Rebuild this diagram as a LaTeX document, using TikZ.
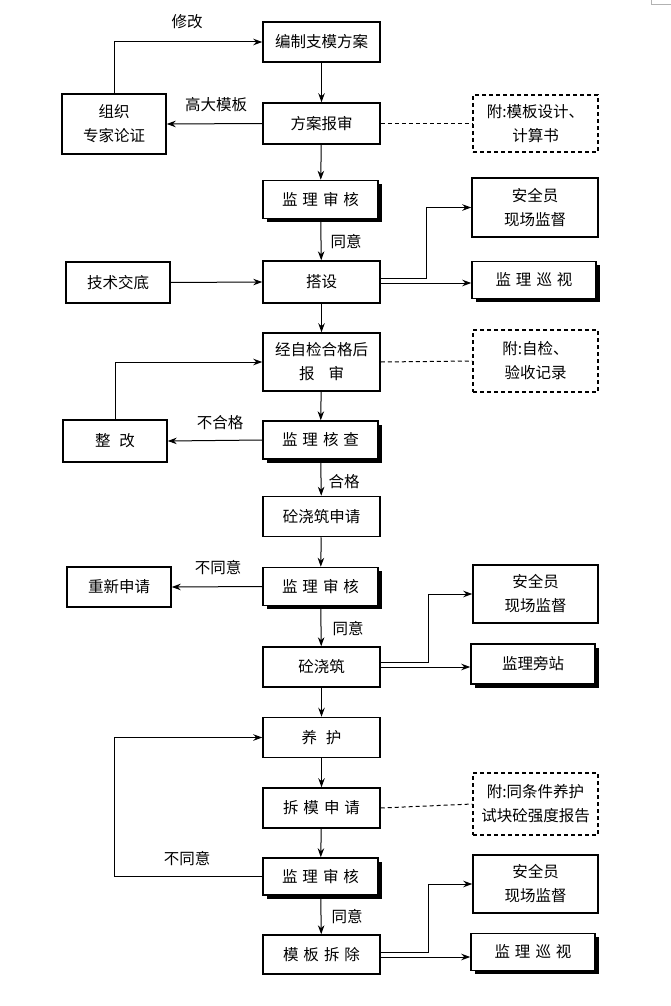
\documentclass[tikz,border=0pt]{standalone}
\usepackage{fontspec}
\setmainfont{Noto Sans CJK SC}
\usetikzlibrary{arrows.meta,shadows,calc}
\newcommand\kg{\hspace{5pt}}
\begin{document}
\begin{tikzpicture}[x=1pt,y=-1pt,
  box/.style={draw, line width=1.5pt, fill=white, inner sep=0pt, align=center,
    font=\fontsize{15.5}{24}\selectfont},
  sbox/.style={box, drop shadow={shadow xshift=3.5pt, shadow yshift=-3.5pt, opacity=1, fill=black}},
  dbox/.style={draw, line width=1.2pt, dash pattern=on 4pt off 3pt, inner sep=0pt, align=center,
    font=\fontsize{15.5}{24}\selectfont},
  arr/.style={line width=1pt, -{Stealth[length=9pt,width=6.5pt]}},
  dline/.style={line width=1pt, dash pattern=on 4pt off 3pt},
  lbl/.style={font=\fontsize{15.5}{18}\selectfont, inner sep=0pt}]
\useasboundingbox (0,0) rectangle (671,1006);
\draw[gray!60, line width=0.6pt] (651,0) -- (651,4) -- (671,4);
% main column
\node[box, minimum width=117, minimum height=40] (bz) at (321.5,42) {编制支模方案};
\node[box, minimum width=117, minimum height=41] (fa) at (321.5,123.5) {方案报审};
\node[sbox, minimum width=115, minimum height=38] (sh1) at (320.5,199.5) {监\kg 理\kg 审\kg 核};
\node[box, minimum width=117, minimum height=42] (ds) at (321.5,282) {搭设};
\node[box, minimum width=117, minimum height=58] (zj) at (321.5,362) {经自检合格后\\报\hspace{14pt}审};
\node[sbox, minimum width=115, minimum height=38] (hc) at (320.5,440) {监\kg 理\kg 核\kg 查};
\node[box, minimum width=117, minimum height=40] (sq) at (321.5,516.5) {砼浇筑申请};
\node[sbox, minimum width=115, minimum height=38] (sh2) at (320.5,586.5) {监\kg 理\kg 审\kg 核};
\node[box, minimum width=117, minimum height=40] (jz) at (321.5,667) {砼浇筑};
\node[box, minimum width=117, minimum height=40] (yh) at (321.5,737.5) {养\hspace{9pt}护};
\node[box, minimum width=117, minimum height=40] (cm) at (321.5,808) {拆\kg 模\kg 申\kg 请};
\node[sbox, minimum width=115, minimum height=37] (sh3) at (320.5,876.5) {监\kg 理\kg 审\kg 核};
\node[box, minimum width=117, minimum height=39] (cc) at (321.5,954.5) {模\kg 板\kg 拆\kg 除};
% left column
\node[box, minimum width=104, minimum height=60] (zz) at (114,124) {组织\\专家论证};
\node[box, minimum width=104, minimum height=41] (js) at (118,282.5) {技术交底};
\node[box, minimum width=104, minimum height=42] (zg) at (115,441) {整\hspace{9pt}改};
\node[box, minimum width=104, minimum height=40] (cx) at (119,587) {重新申请};
% right column
\node[dbox, minimum width=125, minimum height=57] (f1) at (535.5,123.5) {附:模板设计、\\计算书};
\node[box, minimum width=126, minimum height=59] (a1) at (535,207.5) {安全员\\现场监督};
\node[sbox, minimum width=124, minimum height=37] (x1) at (534,280) {监\kg 理\kg 巡\kg 视};
\node[dbox, minimum width=125, minimum height=62] (f2) at (535.5,361) {附:自检、\\验收记录};
\node[box, minimum width=125, minimum height=58] (a2) at (535.5,594) {安全员\\现场监督};
\node[sbox, minimum width=124, minimum height=40] (pz) at (533,664) {监理旁站};
\node[dbox, minimum width=125, minimum height=62] (f3) at (535.5,804) {附:同条件养护\\试块砼强度报告};
\node[box, minimum width=125, minimum height=58] (a3) at (535.5,884) {安全员\\现场监督};
\node[sbox, minimum width=124, minimum height=37] (x3) at (533,952) {监\kg 理\kg 巡\kg 视};
% main vertical flow
\draw[arr] (bz) -- (fa);
\draw[arr] (fa) -- (sh1);
\draw[arr] (sh1) -- (ds);
\draw[arr] (ds) -- (zj);
\draw[arr] (zj) -- (hc);
\draw[arr] (hc) -- (sq);
\draw[arr] (sq) -- (sh2);
\draw[arr] (sh2) -- (jz);
\draw[arr] (jz) -- (yh);
\draw[arr] (yh) -- (cm);
\draw[arr] (cm) -- (sh3);
\draw[arr] (sh3) -- (cc);
% side flows
\draw[arr] (zz.north) |- (bz.west);
\draw[arr] (fa.west) -- (zz.east);
\draw[dline] (fa.east) -- (f1.west);
\draw[arr] (js.east) -- (ds.west);
\coordinate (d1) at ($(ds.east)+(0,-4)$);
\coordinate (d2) at ($(ds.east)+(0,1)$);
\draw[arr] (d1) -- (426,278) |- (a1.west);
\draw[arr] (d2) -- (d2 -| x1.west);
\draw[arr] (zg.north) |- (zj.west);
\draw[dline] (zj.east) -- (f2.west);
\draw[arr] (hc.west) -- (zg.east);
\draw[arr] (sh2.west) -- (cx.east);
\coordinate (j1) at ($(jz.east)+(0,-5)$);
\coordinate (j2) at (jz.east);
\draw[arr] (j1) -- (428,662) |- (a2.west);
\draw[arr] (j2) -- (j2 -| pz.west);
\draw[dline] (cm.east) -- (f3.west);
\draw[arr] (sh3.west) -- (114,876.5) |- (yh.west);
\coordinate (m1) at ($(cc.east)+(0,-2.5)$);
\coordinate (m2) at ($(cc.east)+(0,2.5)$);
\draw[arr] (m1) -- (428,952) |- (a3.west);
\draw[arr] (m2) -- (m2 -| x3.west);
% labels
\node[lbl] (l1) at (187,22) {修改};
\node[lbl] (l2) at (216,105) {高大模板};
\node[lbl] (l3) at (346,242) {同意};
\node[lbl] (l4) at (220,423) {不合格};
\node[lbl] (l5) at (344,482) {合格};
\node[lbl] (l6) at (218,568) {不同意};
\node[lbl] (l7) at (348,629) {同意};
\node[lbl] (l8) at (187,859) {不同意};
\node[lbl] (l9) at (347,917) {同意};
\end{tikzpicture}
\end{document}
